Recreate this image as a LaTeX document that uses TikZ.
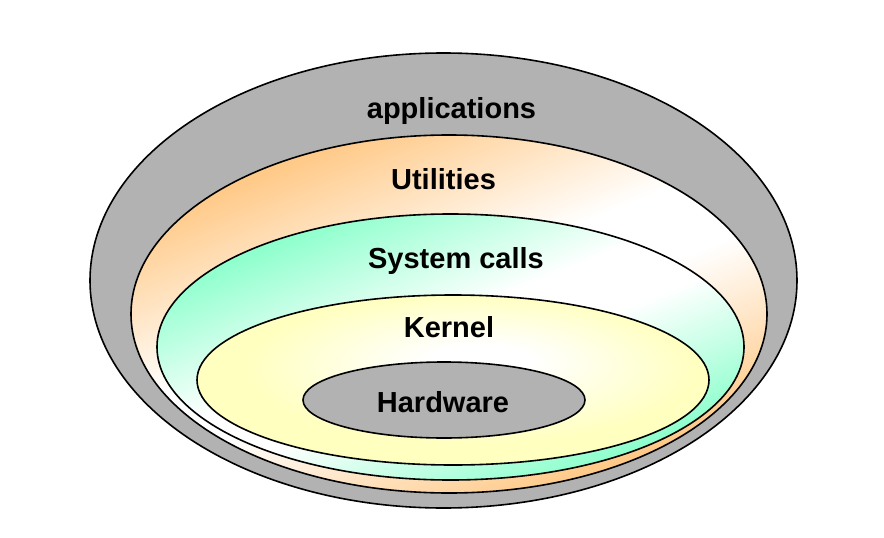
\documentclass[tikz,border=0pt]{standalone}
\usepackage{fontspec}
\setmainfont{Liberation Sans}
\definecolor{shellgray}{HTML}{B2B2B2}
\definecolor{utilorange}{HTML}{FFC987}
\definecolor{sysgreen}{HTML}{8CFFCC}
\definecolor{kernyellow}{HTML}{FFFFC0}
\pgfdeclareverticalshading{utilshade}{100bp}{color(0bp)=(utilorange); color(27bp)=(utilorange); color(46bp)=(white); color(54bp)=(white); color(73bp)=(utilorange); color(100bp)=(utilorange)}
\pgfdeclareverticalshading{sysshade}{100bp}{color(0bp)=(sysgreen); color(27bp)=(sysgreen); color(46bp)=(white); color(54bp)=(white); color(73bp)=(sysgreen); color(100bp)=(sysgreen)}
\pgfdeclareradialshading{kernshade}{\pgfpoint{3bp}{6bp}}{color(0bp)=(white); color(5bp)=(white); color(22bp)=(kernyellow); color(50bp)=(kernyellow)}
\begin{document}
\begin{tikzpicture}[x=1pt,y=-1pt,
  ring/.style={draw=black,line width=1.6pt},
  lbl/.style={anchor=base,font=\fontsize{29}{34}\selectfont\bfseries,inner sep=0pt},
  diag/.style={shading=#1,shading angle=22}]
\useasboundingbox (0,0) rectangle (884,538);
\path[ring,fill=shellgray] (443.5,280.5) ellipse [x radius=353.5,y radius=227.5];
\path[ring,diag=utilshade] (449,314) ellipse [x radius=318,y radius=179];
\path[ring,diag=sysshade] (450.5,347) ellipse [x radius=293.5,y radius=133];
\path[ring,shading=kernshade] (453,380) ellipse [x radius=256,y radius=85];
\path[ring,fill=shellgray] (444,400) ellipse [x radius=141,y radius=38];
\node[lbl] (apps) at (451.5,118) {applications};
\node[lbl] (util) at (443.5,189) {Utilities};
\node[lbl] (sysc) at (456,268) {System calls};
\node[lbl] (kern) at (449,337) {Kernel};
\node[lbl] (hw) at (443,412) {Hardware};
\end{tikzpicture}
\end{document}
